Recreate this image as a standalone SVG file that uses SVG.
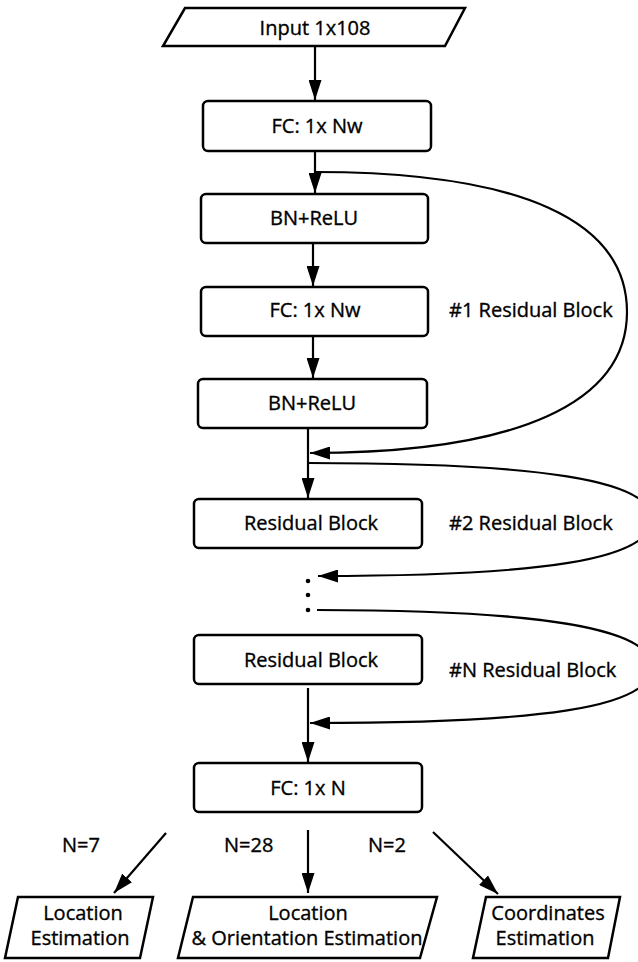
<svg xmlns="http://www.w3.org/2000/svg" width="638" height="962" viewBox="0 0 638 962">
  <style>
    .box { fill: #fff; stroke: #000; stroke-width: 2.5; }
    .edge { fill: none; stroke: #000; stroke-width: 2.2; }
    .lbl { font-family: "Open Sans", "Noto Sans", sans-serif; font-size: 20px; fill: #000; stroke: #000; stroke-width: 0.35; }
    .mid { text-anchor: middle; }
  </style>
  <defs>
    <marker id="arrow" markerUnits="userSpaceOnUse" markerWidth="21" markerHeight="13" refX="20" refY="6.5" orient="auto">
      <path d="M0,0 L20,6.5 L0,13 Z" fill="#000"/>
    </marker>
  </defs>
  <rect width="638" height="962" fill="#fff"/>

  <!-- connectors -->
  <g id="connectors">
    <line class="edge" x1="315" y1="47" x2="315" y2="100" marker-end="url(#arrow)"/>
    <line class="edge" x1="315" y1="152" x2="315" y2="193" marker-end="url(#arrow)"/>
    <line class="edge" x1="313" y1="244" x2="313" y2="286" marker-end="url(#arrow)"/>
    <line class="edge" x1="313" y1="337" x2="313" y2="378" marker-end="url(#arrow)"/>
    <line class="edge" x1="308" y1="428" x2="308" y2="498" marker-end="url(#arrow)"/>
    <line class="edge" x1="308" y1="688" x2="308" y2="762" marker-end="url(#arrow)"/>
    <!-- skip connections -->
    <path class="edge" d="M315 172 C520 172 627 220 627 312 C627 402 520 453 310 453" marker-end="url(#arrow)"/>
    <path class="edge" d="M308 463 C540 463 652 480 652 519 C652 560 540 576 318 576" marker-end="url(#arrow)"/>
    <path class="edge" d="M317 610 C540 610 652 628 652 667 C652 708 540 723 310 723" marker-end="url(#arrow)"/>
    <!-- output branches -->
    <line class="edge" x1="166" y1="833" x2="114" y2="893" marker-end="url(#arrow)"/>
    <line class="edge" x1="308" y1="830" x2="308" y2="893" marker-end="url(#arrow)"/>
    <line class="edge" x1="433" y1="832" x2="498" y2="894" marker-end="url(#arrow)"/>
    <!-- ellipsis between blocks -->
    <circle cx="308" cy="581" r="2.3" fill="#000"/>
    <circle cx="308" cy="595" r="2.3" fill="#000"/>
    <circle cx="308" cy="610" r="2.3" fill="#000"/>
  </g>

  <g id="input">
    <polygon class="box" points="185,8 465,8 445,46 163,46"/>
    <text class="lbl mid" x="315" y="35">Input 1x108</text>
  </g>
  <g id="fc1">
    <rect class="box" x="203" y="101" width="228" height="50" rx="5"/>
    <text class="lbl mid" x="317" y="133">FC: 1x Nw</text>
  </g>
  <g id="bn1">
    <rect class="box" x="201" y="194" width="227" height="49" rx="5"/>
    <text class="lbl mid" x="314" y="225">BN+ReLU</text>
  </g>
  <g id="fc2">
    <rect class="box" x="201" y="287" width="227" height="49" rx="5"/>
    <text class="lbl mid" x="315" y="317">FC: 1x Nw</text>
  </g>
  <g id="bn2">
    <rect class="box" x="198" y="379" width="229" height="49" rx="5"/>
    <text class="lbl mid" x="312" y="410">BN+ReLU</text>
  </g>
  <g id="label-block1">
    <text class="lbl" x="449" y="317">#1 Residual Block</text>
  </g>
  <g id="res2">
    <rect class="box" x="194" y="499" width="228" height="49" rx="5"/>
    <text class="lbl mid" x="311" y="530">Residual Block</text>
  </g>
  <g id="label-block2">
    <text class="lbl" x="449" y="530">#2 Residual Block</text>
  </g>
  <g id="resN">
    <rect class="box" x="194" y="635" width="228" height="49" rx="5"/>
    <text class="lbl mid" x="311" y="667">Residual Block</text>
  </g>
  <g id="label-blockN">
    <text class="lbl" x="449" y="677">#N Residual Block</text>
  </g>
  <g id="fcN">
    <rect class="box" x="194" y="763" width="228" height="49" rx="5"/>
    <text class="lbl mid" x="308" y="795">FC: 1x N</text>
  </g>
  <g id="branch-labels">
    <text class="lbl" x="62" y="852">N=7</text>
    <text class="lbl" x="224" y="852">N=28</text>
    <text class="lbl" x="368" y="852">N=2</text>
  </g>
  <g id="out-location">
    <polygon class="box" points="18,897 153,897 140,958 5,958"/>
    <text class="lbl mid" x="83" y="920">Location</text>
    <text class="lbl mid" x="80" y="945">Estimation</text>
  </g>
  <g id="out-location-orientation">
    <polygon class="box" points="193,897 437,897 420,958 178,958"/>
    <text class="lbl mid" x="308" y="920">Location</text>
    <text class="lbl mid" x="307" y="945">&amp; Orientation Estimation</text>
  </g>
  <g id="out-coordinates">
    <polygon class="box" points="486,897 620,897 608,958 473,958"/>
    <text class="lbl mid" x="548" y="920">Coordinates</text>
    <text class="lbl mid" x="545" y="945">Estimation</text>
  </g>
</svg>
